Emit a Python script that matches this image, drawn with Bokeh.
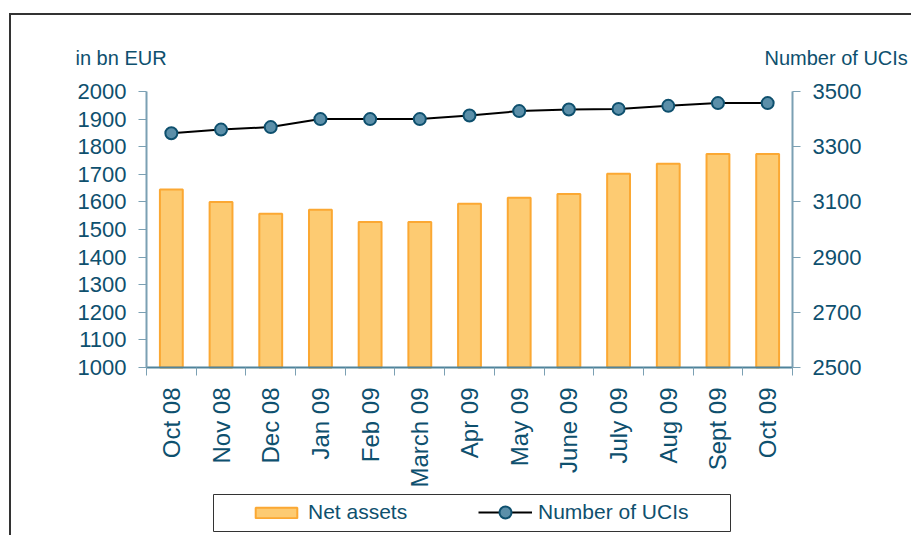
import math
from bokeh.plotting import figure
from bokeh.models import Range1d, LinearAxis, FixedTicker, Legend, LegendItem, Label, BoxAnnotation
from bokeh.embed import file_html
from bokeh.resources import INLINE

# ---- data ----
months = ["Oct 08", "Nov 08", "Dec 08", "Jan 09", "Feb 09", "March 09", "Apr 09",
          "May 09", "June 09", "July 09", "Aug 09", "Sept 09", "Oct 09"]
net_assets = [1645, 1600, 1557, 1572, 1527, 1527, 1593, 1615, 1629, 1702, 1738, 1774, 1774]
num_ucis = [3349, 3362, 3371, 3400, 3400, 3400, 3413, 3429, 3435, 3437, 3448, 3458, 3458]
left_ticks = [1000, 1100, 1200, 1300, 1400, 1500, 1600, 1700, 1800, 1900, 2000]
right_ticks = [2500, 2700, 2900, 3100, 3300, 3500]

# ---- style / layout ----
TEXT = "#0e506e"
AXIS = "#7ba0b3"
XAXIS = "#4f839b"
FONT = "Liberation Sans"

W, H = 902, 522
CX0, CY0 = 11, 15                       # page position of the canvas
F_LEFT, F_RIGHT, F_TOP, F_BOTTOM = 146, 792, 91, 367   # page px of the chart area

n = len(months)
sx = (F_RIGHT - F_LEFT) / n
x_start = -(F_LEFT - CX0) / sx
x_end = n + (CX0 + W - F_RIGHT) / sx
sy = (F_BOTTOM - F_TOP) / (left_ticks[-1] - left_ticks[0])
y_end = left_ticks[-1] + (F_TOP - CY0) / sy
y_start = left_ticks[0] - (CY0 + H - F_BOTTOM) / sy
sr = (F_BOTTOM - F_TOP) / (right_ticks[-1] - right_ticks[0])
r_end = right_ticks[-1] + (F_TOP - CY0) / sr
r_start = right_ticks[0] - (CY0 + H - F_BOTTOM) / sr


def px_x(px):
    return x_start + (px - CX0) / sx


def px_y(py):
    return y_end - (py - CY0) / sy


xs = [i + 0.5 for i in range(n)]

p = figure(width=W, height=H, title=None, x_range=Range1d(x_start, x_end), y_range=Range1d(y_start, y_end),
           output_backend="svg", toolbar_location=None,
           min_border=0, min_border_left=0, min_border_right=0, min_border_top=0, min_border_bottom=0)
p.styles = {"border-left": "2px solid #333", "border-top": "2px solid #333",
            "margin-top": "13px", "margin-left": "9px"}
p.extra_y_ranges = {"ucis": Range1d(r_start, r_end)}
p.xgrid.visible = False
p.ygrid.visible = False
p.outline_line_color = None
p.background_fill_color = "white"
p.border_fill_color = "white"

bars = p.vbar(x=xs, top=net_assets, bottom=left_ticks[0], width=0.46,
              fill_color="#FDCB72", line_color="#FBA833", line_width=2)
ln = p.line(xs, num_ucis, y_range_name="ucis", line_color="black", line_width=2)
pts = p.scatter(xs, num_ucis, y_range_name="ucis", size=12, fill_color="#5b8fa9",
                line_color=TEXT, line_width=2)

# x axis
xa = p.xaxis[0]
xa.fixed_location = left_ticks[0]
xa.bounds = (0, n)
xa.ticker = FixedTicker(ticks=xs, minor_ticks=list(range(n + 1)))
xa.major_label_overrides = {x: m for x, m in zip(xs, months)}
xa.major_tick_line_color = None
xa.major_tick_out = 0
xa.major_tick_in = 0
xa.minor_tick_out = 8
xa.minor_tick_in = 0
xa.minor_tick_line_color = AXIS
xa.axis_line_color = XAXIS
xa.axis_line_width = 2
xa.major_label_orientation = math.pi / 2
xa.major_label_standoff = 12
xa.major_label_text_font_size = "24px"
xa.major_label_text_color = TEXT
xa.major_label_text_font = FONT

# left y axis
ya = p.yaxis[0]
ya.fixed_location = 0
ya.bounds = (left_ticks[0], left_ticks[-1])
ya.ticker = FixedTicker(ticks=left_ticks)
ya.major_tick_out = 8
ya.major_tick_in = 0
ya.minor_tick_line_color = None
ya.major_tick_line_color = AXIS
ya.axis_line_color = AXIS
ya.axis_line_width = 2
ya.major_label_standoff = 12
ya.major_label_text_font_size = "22px"
ya.major_label_text_color = TEXT
ya.major_label_text_font = FONT

# right y axis
ra = LinearAxis(y_range_name="ucis", ticker=FixedTicker(ticks=right_ticks))
ra.fixed_location = n
ra.bounds = (right_ticks[0], right_ticks[-1])
ra.major_tick_out = 8
ra.major_tick_in = 0
ra.minor_tick_line_color = None
ra.major_tick_line_color = AXIS
ra.axis_line_color = AXIS
ra.axis_line_width = 2
ra.major_label_standoff = 12
ra.major_label_text_font_size = "22px"
ra.major_label_text_color = TEXT
ra.major_label_text_font = FONT
p.add_layout(ra, "right")

# axis titles
p.add_layout(Label(x=px_x(75), y=px_y(57), text="in bn EUR", text_baseline="alphabetic",
                   text_font_size="20px", text_color=TEXT, text_font=FONT))
p.add_layout(Label(x=px_x(764), y=px_y(57), text="Number of UCIs", text_baseline="alphabetic",
                   text_font_size="20px", text_color=TEXT, text_font=FONT))

# legend frame
p.add_layout(BoxAnnotation(left=px_x(213), right=px_x(730), top=px_y(494), bottom=px_y(531),
                           fill_color="white", fill_alpha=1, line_color="#333", line_alpha=1,
                           line_width=1))

common = dict(orientation="horizontal", label_standoff=6, spacing=0, padding=0, margin=0,
              border_line_color=None, background_fill_alpha=0,
              label_text_font_size="21px", label_text_color=TEXT, label_text_font=FONT)
leg_a = Legend(items=[LegendItem(label="Net assets", renderers=[bars])],
               location=(250 - CX0, CY0 + H - 524), glyph_width=52, glyph_height=13, **common)
leg_b = Legend(items=[LegendItem(label="Number of UCIs", renderers=[ln, pts])],
               location=(478 - CX0, CY0 + H - 527), glyph_width=54, glyph_height=30, **common)
p.add_layout(leg_a)
p.add_layout(leg_b)

open("out.html", "w").write(file_html(p, INLINE))
